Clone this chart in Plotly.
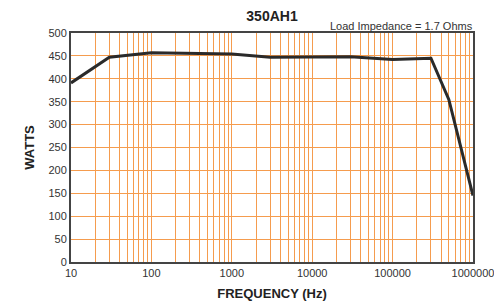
import plotly.graph_objects as go

freq_hz = [10, 30, 100, 1000, 3000, 30000, 100000, 300000, 500000, 1000000]
watts = [391, 447, 457, 454, 447, 448, 442, 445, 355, 145]

x_tick_vals = [10, 100, 1000, 10000, 100000, 1000000]
x_tick_text = ["10", "100", "1000", "10000", "100000", "1000000"]
y_tick_vals = [0, 50, 100, 150, 200, 250, 300, 350, 400, 450, 500]

# minor grid positions: 2..9 within each decade
x_minor_vals = [d * m for d in x_tick_vals[:-1] for m in range(2, 10)]

grid_color = "#F59C4E"
font_family = "Liberation Sans, Arial, sans-serif"

# page body has an 8px margin, so the figure is sized/offset to compensate
W, H = 494, 295

fig = go.Figure()
fig.add_trace(go.Scatter(
    x=freq_hz, y=watts, mode="lines",
    line=dict(color="#2a2a2a", width=3),
    showlegend=False, hoverinfo="skip",
))

fig.update_layout(
    width=W, height=H,
    margin=dict(l=63, r=29, t=25, b=41, autoexpand=False),
    paper_bgcolor="white", plot_bgcolor="white",
    font=dict(family=font_family, size=11, color="#333333"),
    title=dict(text="<b>350AH1</b>", x=264 / W, xanchor="center",
               y=1 - 8 / H, yanchor="middle",
               font=dict(size=14, color="#222222", family=font_family)),
    annotations=[dict(
        text="Load Impedance = 1.7 Ohms", xref="paper", yref="paper",
        x=1, y=1, xanchor="right", yanchor="bottom", showarrow=False,
        font=dict(size=11, color="#333333", family=font_family),
        yshift=-1, xshift=2,
    )],
)

fig.update_xaxes(
    type="log", range=[1, 6], automargin=False,
    tickvals=x_tick_vals, ticktext=x_tick_text,
    showgrid=True, gridcolor=grid_color, gridwidth=1,
    minor=dict(tickvals=x_minor_vals, showgrid=True, gridcolor=grid_color, gridwidth=1, ticks=""),
    showline=True, linecolor="#444444", linewidth=2, mirror=True,
    ticks="", ticklen=0,
    tickfont=dict(size=11, color="#333333"),
    title=dict(text="<b>FREQUENCY (Hz)</b>", font=dict(size=13, color="#222222"), standoff=11),
    zeroline=False,
)
fig.update_yaxes(
    range=[0, 500], tickvals=y_tick_vals, automargin=False,
    showgrid=True, gridcolor=grid_color, gridwidth=1,
    showline=True, linecolor="#444444", linewidth=2, mirror=True,
    ticks="", tickfont=dict(size=11, color="#333333"),
    title=dict(text="<b>WATTS</b>", font=dict(size=13, color="#222222"), standoff=11),
    zeroline=False,
)

fig.write_html("out.html")
